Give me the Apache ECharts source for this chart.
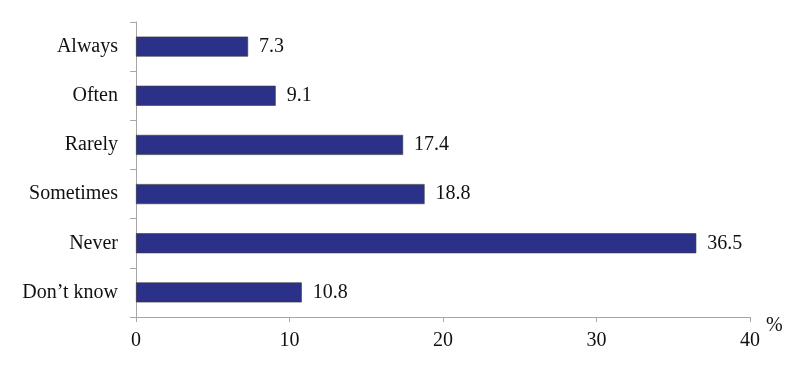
<!DOCTYPE html>
<html>
<head>
<meta charset="utf-8">
<script src="https://cdn.jsdelivr.net/npm/echarts@6/dist/echarts.min.js"></script>
<style>
  html, body { margin: 0; padding: 0; background: #fff; }
  #chart { width: 800px; height: 370px; }
</style>
</head>
<body>
<div id="chart"></div>
<script>
var categories = ['Don\u2019t know', 'Never', 'Sometimes', 'Rarely', 'Often', 'Always'];
var values = [10.8, 36.5, 18.8, 17.4, 9.1, 7.3];
var xTicks = [0, 10, 20, 30, 40];

var myChart = echarts.init(document.getElementById('chart'));

var font = '"Liberation Serif", "Times New Roman", serif';

var option = {
    animation: false,
    textStyle: { fontFamily: font, color: '#111' },
    grid: { left: 136, right: 50, top: 22, bottom: 53 },
    xAxis: {
        type: 'value',
        min: xTicks[0],
        max: xTicks[xTicks.length - 1],
        interval: 10,
        name: '%',
        nameLocation: 'end',
        nameGap: 10,
        nameTextStyle: { fontFamily: font, fontSize: 20, color: '#111', verticalAlign: 'top', padding: [-1, 0, 0, 0] },
        splitLine: { show: false },
        axisLine: { show: true, lineStyle: { color: '#a6a6a6', width: 1 } },
        axisTick: { show: true, length: 5, lineStyle: { color: '#a6a6a6' } },
        axisLabel: { fontFamily: font, fontSize: 20, color: '#111', margin: 14 }
    },
    yAxis: {
        type: 'category',
        data: categories,
        axisLine: { show: true, lineStyle: { color: '#a6a6a6', width: 1 } },
        axisTick: { show: true, length: 6, lineStyle: { color: '#a6a6a6' } },
        axisLabel: { fontFamily: font, fontSize: 20, color: '#111', margin: 18 }
    },
    series: [{
        type: 'bar',
        data: values,
        barWidth: 20,
        itemStyle: { color: '#2b3088', borderColor: '#3a3a3a', borderWidth: 0.6 },
        label: {
            show: true,
            position: 'right',
            distance: 11,
            fontFamily: font,
            fontSize: 20,
            color: '#111'
        }
    }]
};

myChart.setOption(option);
</script>
</body>
</html>
